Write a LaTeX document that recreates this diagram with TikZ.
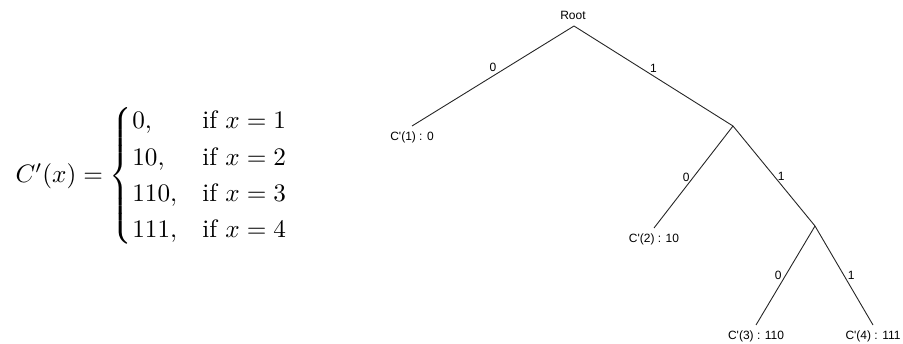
\documentclass[tikz,border=0pt]{standalone}
\usepackage{amsmath}
\usepackage{fontspec}
\newfontfamily\treefont{Liberation Sans}
\tikzset{
  branch/.style={line width=0.9pt, draw=black!85},
  lbl/.style={font=\treefont\fontsize{12}{14}\selectfont, inner sep=0pt},
  leaf/.style={lbl, anchor=north, inner xsep=0pt, inner ysep=5.5pt},
  bit/.style={font=\treefont\fontsize{12}{14}\selectfont, inner sep=2.5pt},
}
\begin{document}
\begin{tikzpicture}[x=1pt, y=-1pt]
  \useasboundingbox (0,0) rectangle (903,343);

  % code definition
  \node[anchor=west, scale=2.52, inner sep=0pt] (eq) at (15,176)
    {\renewcommand{\arraystretch}{1.16}%
     $C'(x) = \begin{cases} 0, & \text{if } x = 1\\ 10, & \text{if } x = 2\\ 110, & \text{if } x = 3\\ 111, & \text{if } x = 4 \end{cases}$};

  % branch points
  \coordinate (r)   at (574,26);
  \coordinate (n1)  at (733,126);
  \coordinate (n11) at (815,226);

  \node[lbl, anchor=base] (root) at (573,19) {Root};

  % leaves
  \node[leaf] (c1) at (412,126) {C'(1) : 0};
  \node[leaf] (c2) at (654,228) {C'(2) : 10};
  \node[leaf] (c3) at (756,325) {C'(3) : 110};
  \node[leaf] (c4) at (873,325) {C'(4) : 111};

  % edges with their bits
  \draw[branch] (r) -- node[bit, midway, above=1pt] {0} (c1.north);
  \draw[branch] (r) -- node[bit, midway, above=1pt] {1} (n1);
  \draw[branch] (n1) -- node[bit, midway, left=1pt] {0} (c2.north);
  \draw[branch] (n1) -- node[bit, midway, right=1pt] {1} (n11);
  \draw[branch] (n11) -- node[bit, midway, left=1pt] {0} (c3.north);
  \draw[branch] (n11) -- node[bit, midway, right=1pt] {1} (c4.north);
\end{tikzpicture}
\end{document}
